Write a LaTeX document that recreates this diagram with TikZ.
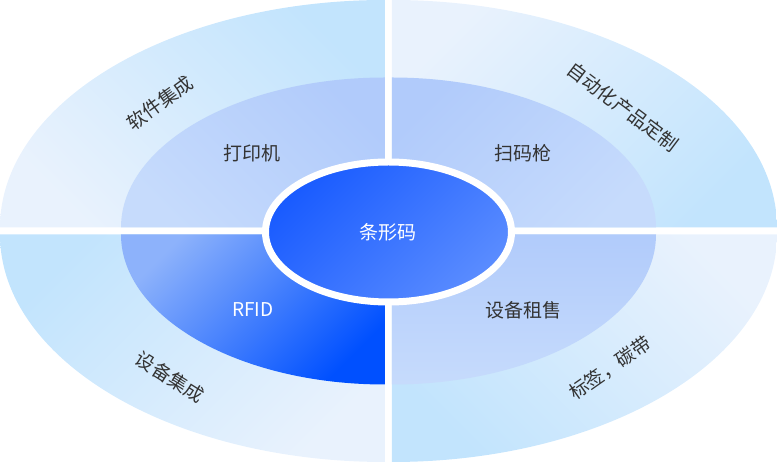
\documentclass[tikz,border=0pt]{standalone}
\usepackage{fontspec}
\setmainfont{Noto Sans CJK SC}
\usetikzlibrary{shapes.geometric}
\definecolor{ringlight}{HTML}{E9F2FD}
\definecolor{ringdark}{HTML}{C2E4FD}
\definecolor{midlight}{HTML}{C6DBFC}
\definecolor{middark}{HTML}{B1CBFB}
\definecolor{rfidlight}{HTML}{8DB2FB}
\definecolor{rfiddark}{HTML}{0050FF}
\definecolor{coredark}{HTML}{195BFF}
\definecolor{corelight}{HTML}{5A8CFF}
\definecolor{labeltext}{HTML}{333333}
\begin{document}
\begin{tikzpicture}[x=1pt,y=1pt,
    lbl/.style={text=labeltext,font=\fontsize{19}{19}\selectfont,inner sep=0pt},
    inlbl/.style={lbl,text=white}]
  \useasboundingbox (-388.5,-231) rectangle (388.5,231);
  \shade[top color=ringdark,bottom color=ringlight,shading angle=-45]
    (-3.5,3.5) -- (-388.5,3.5) arc[start angle=180,end angle=90,x radius=385,y radius=227.5] -- cycle;
  \shade[top color=ringdark,bottom color=ringlight,shading angle=-135]
    (3.5,3.5) -- (3.5,231) arc[start angle=90,end angle=0,x radius=385,y radius=227.5] -- cycle;
  \shade[top color=ringdark,bottom color=ringlight,shading angle=135]
    (3.5,-3.5) -- (388.5,-3.5) arc[start angle=0,end angle=-90,x radius=385,y radius=227.5] -- cycle;
  \shade[top color=ringdark,bottom color=ringlight,shading angle=45]
    (-3.5,-3.5) -- (-3.5,-231) arc[start angle=270,end angle=180,x radius=385,y radius=227.5] -- cycle;
  \shade[top color=middark,bottom color=midlight,shading angle=-45]
    (-3.5,3.5) -- (-267.5,3.5) arc[start angle=180,end angle=90,x radius=264,y radius=150] -- cycle;
  \shade[top color=middark,bottom color=midlight,shading angle=45]
    (3.5,3.5) -- (3.5,153.5) arc[start angle=90,end angle=0,x radius=264,y radius=150] -- cycle;
  \shade[top color=middark,bottom color=midlight,shading angle=0]
    (3.5,-3.5) -- (267.5,-3.5) arc[start angle=0,end angle=-90,x radius=264,y radius=150] -- cycle;
  \shade[top color=rfidlight,bottom color=rfiddark,shading angle=45]
    (-3.5,-3.5) -- (-3.5,-153.5) arc[start angle=270,end angle=180,x radius=264,y radius=150] -- cycle;
  \node[ellipse,draw=white,line width=7,minimum width=246,minimum height=140,
    top color=coredark,bottom color=corelight,shading angle=45,
    text=white,font=\fontsize{19}{19}\selectfont] (core) at (0,-1) {条形码};
  \node[lbl,rotate=36] (software) at (-228.5,128) {软件集成};
  \node[lbl,rotate=-37] (custom) at (234.5,124) {自动化产品定制};
  \node[lbl,rotate=-32] (devices) at (-218.5,-146) {设备集成};
  \node[lbl,rotate=35] (labels) at (221.5,-137) {标签，碳带};
  \node[lbl] (printer) at (-136.5,78) {打印机};
  \node[lbl] (scanner) at (134.5,78) {扫码枪};
  \node[inlbl] (rfid) at (-135.5,-79) {RFID};
  \node[lbl] (rental) at (135.5,-79) {设备租售};
\end{tikzpicture}
\end{document}
